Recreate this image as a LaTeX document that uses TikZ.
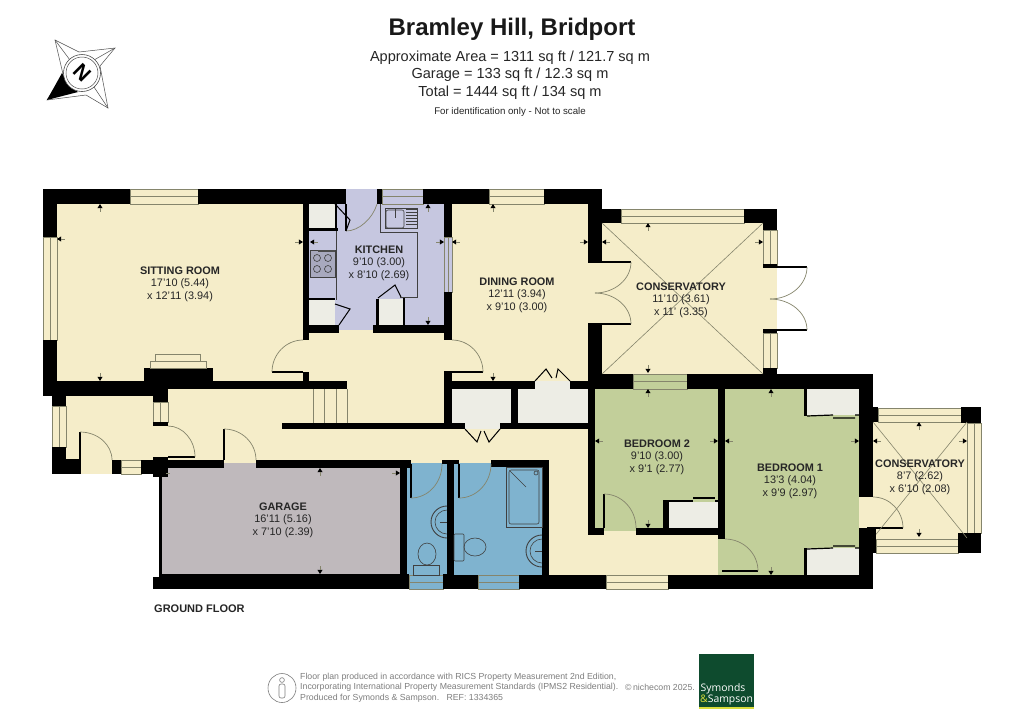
\documentclass[tikz,border=0pt]{standalone}
\usepackage{fontspec}
\setmainfont{Liberation Sans}
\newfontfamily\logofont{Open Sans}
\usetikzlibrary{calc}
\definecolor{cream}{HTML}{F5EDC9}
\definecolor{bedgreen}{HTML}{C2CF9A}
\definecolor{bathblue}{HTML}{7FB3CF}
\definecolor{kitchenblue}{HTML}{C6C7E0}
\definecolor{cupboard}{HTML}{EDEDE5}
\definecolor{garagegrey}{HTML}{BFB9BC}
\definecolor{frameline}{HTML}{85856C}
\definecolor{logogreen}{HTML}{0E4B2E}
\definecolor{logoyellow}{HTML}{D9DC3C}
\definecolor{footgrey}{HTML}{7E7E7E}
\tikzset{
  wall/.style={fill=black,draw=none},
  floorarea/.style={draw=none},
  thinline/.style={draw=frameline,line width=0.6pt},
  leaf/.style={draw=black,line width=1.3pt},
  swing/.style={draw=frameline,line width=0.7pt},
  fitting/.style={draw=black!75,line width=0.6pt},
  roomlabel/.style={align=center,inner sep=0pt,text=black!85,font=\fontsize{10.9}{12.6}\selectfont},
}
\newcommand{\Fl}[5]{\fill[#5] (#1,#2) rectangle (#3,#4);}
\newcommand{\Wl}[4]{\fill[wall] (#1,#2) rectangle (#3,#4);}
% horizontal window
\newcommand{\WinH}[5]{\filldraw[fill=#5,thinline] (#1,#2) rectangle (#3,#4);
  \draw[thinline] (#1,{(#2+#4)/2}) -- (#3,{(#2+#4)/2});}
% vertical window
\newcommand{\WinV}[5]{\filldraw[fill=#5,thinline] (#1,#2) rectangle (#3,#4);
  \draw[thinline] ({(#1+#3)/2},#2) -- ({(#1+#3)/2},#4);}
% quarter arc from a to b with tangent corner c
\newcommand{\Qa}[6]{\draw[swing] (#1,#2) .. controls ($(#1,#2)!0.552!(#5,#6)$) and ($(#3,#4)!0.552!(#5,#6)$) .. (#3,#4);}
\newcommand{\Lf}[4]{\draw[leaf] (#1,#2) -- (#3,#4);}
% measurement ticks: tip position
\newcommand{\MU}[2]{\fill (#1,#2) -- ++(-2.6,4.2) -- ++(5.2,0) -- cycle; \draw[thinline,line width=0.3pt] (#1,#2+4.2) -- ++(0,4);}
\newcommand{\MD}[2]{\fill (#1,#2) -- ++(-2.6,-4.2) -- ++(5.2,0) -- cycle; \draw[thinline,line width=0.3pt] (#1,#2-4.2) -- ++(0,-4);}
\newcommand{\ML}[2]{\fill (#1,#2) -- ++(4.2,-2.6) -- ++(0,5.2) -- cycle; \draw[thinline,line width=0.3pt] (#1+4.2,#2) -- ++(4,0);}
\newcommand{\MR}[2]{\fill (#1,#2) -- ++(-4.2,-2.6) -- ++(0,5.2) -- cycle; \draw[thinline,line width=0.3pt] (#1-4.2,#2) -- ++(-4,0);}
\begin{document}
\begin{tikzpicture}[x=1pt,y=-1pt]
\useasboundingbox (0,0) rectangle (1024,724);
\fill[white] (0,0) rectangle (1024,724);

% ---------- floors
\Fl{57}{204}{303}{381}{cream}      % sitting
\Fl{309}{204}{444}{325}{kitchenblue}
\Fl{339}{325}{373}{330}{kitchenblue}
\Fl{346}{189}{377}{204}{kitchenblue}
\Fl{452}{204}{588}{381}{cream}     % dining
\Fl{300}{330}{452}{423}{cream}     % inner hall
\Fl{303}{340}{310}{372}{cream}
\Fl{444}{340}{452}{372}{cream}
\Fl{602}{223}{763}{374}{cream}     % conservatory
\Fl{588}{262}{602}{324}{cream}
\Fl{763}{267}{777}{330}{cream}
\Fl{160}{389}{313}{429}{cream}
\Fl{282}{429}{588}{463}{cream}
\Fl{160}{429}{282}{463}{cream}
\Fl{313}{389}{347}{423}{cream}
\Fl{549}{429}{588}{575}{cream}
\Fl{549}{535}{725}{575}{cream}
\Fl{66}{396}{168}{460}{cream}
\Fl{80}{460}{112}{474}{cream}
\Fl{224}{463}{256}{468}{garagegrey}
\Fl{162}{468}{400}{574}{garagegrey}
\Fl{407}{463}{447}{575}{bathblue}
\Fl{454}{463}{542}{575}{bathblue}
\Fl{595}{389}{718}{531}{bedgreen}
\Fl{604}{531}{636}{535}{cream}
\Fl{725}{389}{859}{575}{bedgreen}
\Fl{718}{539}{725}{575}{bedgreen}
\Fl{859}{497}{873}{528}{cream}
\Fl{873}{422}{967}{539}{cream}
% cupboards
\Fl{452}{389}{511}{423}{cupboard}
\Fl{518}{389}{588}{423}{cupboard}
\Fl{465}{423}{500}{429}{cupboard}
\Fl{535}{381}{570}{389}{cupboard}
\Fl{669}{502}{718}{528}{cupboard}
\Fl{807}{389}{859}{415}{cupboard}
\Fl{807}{548}{859}{575}{cupboard}
\Fl{309}{204}{335}{228}{cupboard}
\Fl{309}{300}{335}{325}{cupboard}
\Fl{379}{299}{403}{325}{cupboard}

% ---------- windows
\WinH{130}{189}{198}{204}{cream}
\WinV{43}{237}{57}{340}{cream}
\WinH{382}{189}{423}{204}{kitchenblue}
\WinH{489}{189}{544}{204}{cream}
\WinV{444}{237}{452}{292}{kitchenblue}
\WinH{621}{209}{744}{223}{cream}
\WinV{763}{230}{777}{266}{cream}
\WinV{763}{333}{777}{368}{cream}
\WinH{633}{374}{687}{389}{bedgreen}
\WinH{878}{408}{961}{422}{cream}
\WinV{967}{423}{981}{533}{cream}
\WinH{876}{539}{958}{553}{cream}
\WinV{52}{406}{66}{447}{cream}
\WinV{153}{402}{168}{422}{cream}
\WinH{121}{460}{141}{474}{cream}
\WinH{409}{575}{443}{589}{bathblue}
\WinH{478}{575}{519}{589}{bathblue}
\WinH{606}{575}{668}{589}{cream}

% ---------- stairs
\draw[thinline] (313,389) -- (313,423) (324,389) -- (324,423) (336,389) -- (336,423) (347,389) -- (347,423);

% ---------- walls
\Wl{43}{189}{130}{204}\Wl{198}{189}{346}{204}\Wl{377}{189}{382}{204}\Wl{423}{189}{489}{204}\Wl{544}{189}{602}{204}
\Wl{43}{204}{57}{237}\Wl{43}{340}{57}{396}
\Wl{57}{381}{347}{389}\Wl{444}{381}{535}{389}\Wl{570}{381}{600}{389}\Wl{43}{389}{168}{396}
\Wl{144}{368}{213}{381}
\Wl{303}{204}{309}{340}\Wl{303}{372}{309}{381}
\Wl{309}{325}{339}{333}\Wl{373}{325}{452}{333}
\Wl{444}{204}{452}{237}\Wl{444}{292}{452}{340}\Wl{444}{372}{452}{423}
\Wl{588}{204}{600}{262}\Wl{588}{324}{602}{374}\Wl{600}{204}{602}{262}
\Wl{602}{209}{621}{223}\Wl{744}{209}{777}{223}\Wl{763}{223}{777}{230}
\Wl{763}{264}{777}{267}\Wl{763}{330}{777}{333}\Wl{763}{368}{777}{374}
\Wl{588}{374}{633}{389}\Wl{687}{374}{873}{389}
\Wl{511}{389}{518}{423}
\Wl{282}{423}{465}{429}\Wl{500}{423}{595}{429}
\Wl{588}{389}{595}{535}\Wl{588}{528}{604}{535}\Wl{636}{528}{725}{535}
\Wl{718}{389}{725}{539}
\Wl{859}{389}{873}{497}\Wl{859}{528}{873}{589}
\Wl{873}{407}{878}{422}\Wl{961}{407}{981}{423}\Wl{958}{533}{981}{553}\Wl{873}{539}{876}{553}
% entrance
\Wl{52}{396}{66}{406}\Wl{52}{447}{66}{474}\Wl{66}{459}{80}{474}\Wl{112}{460}{121}{474}\Wl{141}{460}{168}{474}
\Wl{153}{396}{168}{402}\Wl{153}{422}{168}{426}
\Wl{153}{457}{168}{477}
% garage
\Wl{159}{468}{162}{578}\Wl{168}{460}{224}{468}\Wl{256}{460}{411}{468}\Wl{400}{468}{407}{575}
\Wl{162}{574}{409}{589}\Wl{153}{577}{168}{589}
% baths
\Wl{407}{460}{411}{464}\Wl{442}{460}{459}{464}\Wl{447}{464}{454}{575}\Wl{491}{460}{549}{467}\Wl{542}{467}{549}{575}
\Wl{443}{575}{478}{589}\Wl{519}{575}{606}{589}\Wl{668}{575}{873}{589}
\Wl{443}{574}{454}{580}

% ---------- fireplace
\filldraw[fill=cream,thinline] (150,361) rectangle (206,368);
\filldraw[fill=cream,thinline] (155,354) rectangle (200,361);

% ---------- doors
\Lf{272}{372}{303}{372}\Qa{272}{372}{303}{340}{272}{340}
\Lf{483}{372}{444}{372}\Qa{483}{372}{452}{340}{483}{340}
\Lf{346}{204}{346}{231}\Qa{346}{231}{377}{204}{369}{231}
\Lf{588}{262}{631}{262}\Qa{631}{262}{595}{293}{631}{293}
\Lf{588}{324}{631}{324}\Qa{631}{324}{595}{293}{631}{293}
\Lf{763}{267}{807}{267}\Qa{807}{267}{770}{299}{807}{299}
\Lf{763}{330}{807}{330}\Qa{807}{330}{770}{299}{807}{299}
\Lf{80}{474}{80}{432}\Qa{80}{432}{112}{460}{112}{432}
\Lf{168}{457}{195}{457}\Qa{195}{457}{168}{426}{195}{426}
\Lf{224}{460}{224}{429}\Qa{224}{429}{256}{460}{256}{429}
\Lf{411}{464}{411}{498}\Qa{411}{498}{442}{464}{442}{498}
\Lf{459}{464}{459}{498}\Qa{459}{498}{491}{464}{491}{498}
\Lf{604}{528}{604}{494}\Qa{604}{494}{636}{528}{636}{494}
\Lf{722}{571}{758}{571}\Qa{758}{571}{725}{539}{758}{539}
\Lf{867}{528}{903}{528}\Qa{903}{528}{873}{497}{903}{497}
% cupboard doors
\draw[leaf,line width=1pt] (535,381) -- (546,369) -- (552,378) (556,378) -- (558,369) -- (570,381);
\draw[leaf,line width=1pt] (465,429) -- (477,442) -- (481,431) (484,431) -- (489,442) -- (500,429);
\draw[leaf,line width=1pt] (335,204) -- (350,220) -- (346,231);
\draw[leaf,line width=1pt] (335,304) -- (350,309) -- (339,325);
\Wl{309}{228}{338}{231}\Wl{309}{298}{335}{300}\Wl{335}{204}{337}{228}
% kitchen cupboard
\Wl{376}{299}{379}{325}\Wl{403}{297}{405}{325}
\draw[leaf,line width=1pt] (378,298) -- (395,285) -- (401,297);
% kitchen worktop
\draw[fitting] (380,204) -- (380,232) -- (417,232) -- (417,297) -- (400,297);
\draw[fitting] (336,231) -- (336,300);
\draw[fitting,fill=kitchenblue!85!black] (310,250) rectangle (335,277);
\draw[fitting] (317,258) circle (3.5) (328,258) circle (3.5) (317,269) circle (3.5) (328,269) circle (3.5);
\fill[black!70] (318,250) rectangle (335,252);
% sink
\draw[fitting] (385,208) rectangle (417,228);
\draw[fitting,rounded corners=2pt] (386,210) rectangle (404,228);
\draw[fitting] (395,209) -- (395,218);
\foreach \yy in {209,212,215,218,221,224}{\draw[fitting] (406,\yy) -- (417,\yy);}
% bedroom wardrobes
\Wl{663}{500}{669}{528}\draw[leaf,line width=1.2pt] (669,501) -- (693,501) (693,498) -- (715,498) (715,501) -- (718,501);
\Wl{804}{389}{807}{416}\draw[leaf,line width=1.2pt] (807,416) -- (833,415) (833,418) -- (855,418) (855,415) -- (859,415);
\Wl{804}{548}{807}{575}\draw[leaf,line width=1.2pt] (807,549) -- (833,548) (833,546) -- (855,546) (855,548) -- (859,548);
% bathroom fittings
\draw[fitting,fill=bathblue] (506,467) rectangle (542,527);
\draw[fitting,rounded corners=2pt] (509,470) rectangle (539,524);
\draw[fitting] (510,471) -- (526,487);
\draw[fitting] (536,473) circle (2);
\draw[fitting,line width=0.9pt] (447,506) arc (270:90:16);
\draw[fitting] (447,510) arc (270:90:12);
\draw[fitting] (440,522) -- (447,522);
\draw[fitting,line width=0.9pt] (542,535) arc (270:90:16);
\draw[fitting] (542,539) arc (270:90:12);
\draw[fitting] (535,551) -- (542,551);
\draw[fitting] (413,565) rectangle (439,575);
\draw[fitting] (427,554) ellipse (9 and 11);
\draw[fitting,rounded corners=1pt] (454,534) rectangle (464,561);
\draw[fitting] (475,547) ellipse (11 and 9);

% ---------- conservatory diagonals
\draw[thinline] (602,223) -- (763,374) (763,223) -- (602,374);
\draw[thinline] (873,422) -- (967,538) (967,422) -- (873,538);
\Wl{873}{528}{876}{539}

% ---------- measure marks
\MU{100}{204}\MD{100}{381}\ML{57}{239}\MR{303}{242}
\ML{310}{242}\MR{444}{242}\MU{428}{204}\MD{428}{325}
\ML{452}{242}\MR{588}{242}\MU{493}{204}\MD{493}{381}
\ML{602}{242}\MR{763}{242}\MU{648}{223}\MD{648}{373}
\ML{595}{441}\MR{718}{441}\MU{648}{389}\MD{648}{528}
\ML{725}{441}\MR{859}{441}\MU{771}{389}\MD{771}{575}
\ML{873}{441}\MR{967}{441}\MU{919}{422}\MD{919}{537}
\ML{162}{473}\MR{400}{473}\MU{320}{468}\MD{320}{574}

% ---------- room labels
\node[roomlabel] (sitting) at (180,284) {\textbf{SITTING ROOM}\\17'10 (5.44)\\x 12'11 (3.94)};
\node[roomlabel] (kitchen) at (379,263) {\textbf{KITCHEN}\\9'10 (3.00)\\x 8'10 (2.69)};
\node[roomlabel] (dining) at (517,295) {\textbf{DINING ROOM}\\12'11 (3.94)\\x 9'10 (3.00)};
\node[roomlabel] (cons1) at (681,300) {\textbf{CONSERVATORY}\\11'10 (3.61)\\x 11' (3.35)};
\node[roomlabel] (bed2) at (657,457) {\textbf{BEDROOM 2}\\9'10 (3.00)\\x 9'1 (2.77)};
\node[roomlabel] (bed1) at (790,481) {\textbf{BEDROOM 1}\\13'3 (4.04)\\x 9'9 (2.97)};
\node[roomlabel] (cons2) at (920,477) {\textbf{CONSERVATORY}\\8'7 (2.62)\\x 6'10 (2.08)};
\node[roomlabel] (garage) at (283,520) {\textbf{GARAGE}\\16'11 (5.16)\\x 7'10 (2.39)};
\node[anchor=west,inner sep=0pt,text=black!85,font=\bfseries\fontsize{11}{13}\selectfont] (floorname) at (154,609) {GROUND FLOOR};

% ---------- title block
\node[inner sep=0pt,text=black!90,font=\bfseries\fontsize{24}{28}\selectfont] (title) at (512,29) {Bramley Hill, Bridport};
\node[inner sep=0pt,text=black!85,font=\fontsize{14.55}{17}\selectfont] (area1) at (510,58) {Approximate Area = 1311 sq ft / 121.7 sq m};
\node[inner sep=0pt,text=black!85,font=\fontsize{14.55}{17}\selectfont] (area2) at (510,75) {Garage = 133 sq ft / 12.3 sq m};
\node[inner sep=0pt,text=black!85,font=\fontsize{14.55}{17}\selectfont] (area3) at (510,93) {Total = 1444 sq ft / 134 sq m};
\node[inner sep=0pt,text=black!85,font=\fontsize{9.7}{12}\selectfont] (note) at (510,112) {For identification only - Not to scale};

% ---------- compass
\draw[black!70,line width=0.5pt] (55,40) -- (79,52) -- (115,48) -- (100,66) -- (108,108) -- (86,95) -- (47,100) -- (63,74) -- cycle;
\fill[black] (47,100) -- (62,73) -- (70,87) -- (78,92) -- cycle;
\draw[black!70,line width=0.5pt] (55,40) -- (70,60) (115,48) -- (94,60) (108,108) -- (94,87);
\filldraw[fill=white,draw=black!70,line width=0.6pt] (82,73) circle (18.5);
\draw[black!70,line width=0.5pt] (82,73) circle (16);
\node[inner sep=0pt,rotate=-45,font=\bfseries\fontsize{21}{22}\selectfont] (north) at (82,73) {N};

% ---------- footer
\draw[footgrey,line width=0.6pt] (282,688) ellipse (14 and 14.5);
\draw[footgrey,line width=0.6pt] (282,680) circle (2.4);
\draw[footgrey,line width=0.6pt,rounded corners=2pt] (279,684) rectangle (285,698);
\node[anchor=west,align=left,inner sep=0pt,text=footgrey,font=\fontsize{8.75}{10.4}\selectfont] (footnote) at (300,687.5) {Floor plan produced in accordance with RICS Property Measurement 2nd Edition,\\Incorporating International Property Measurement Standards (IPMS2 Residential).\\Produced for Symonds \& Sampson.\ \ \ REF:\ 1334365};
\node[anchor=west,inner sep=0pt,text=footgrey,font=\fontsize{8.75}{10.4}\selectfont] (copyright) at (625,687.5) {©\,nichecom 2025.};
\fill[logogreen] (699,654) rectangle (754,707);
\fill[logoyellow] (699,707) rectangle (754,709);
\node[anchor=west,inner sep=0pt,text=white,font=\logofont\fontsize{10.4}{12}\selectfont] (logo1) at (700.5,689) {Symonds};
\node[anchor=west,inner sep=0pt,text=white,font=\logofont\fontsize{10.4}{12}\selectfont] (logo2) at (700,700) {{\color{logoyellow}\&}Sampson};
\end{tikzpicture}
\end{document}
